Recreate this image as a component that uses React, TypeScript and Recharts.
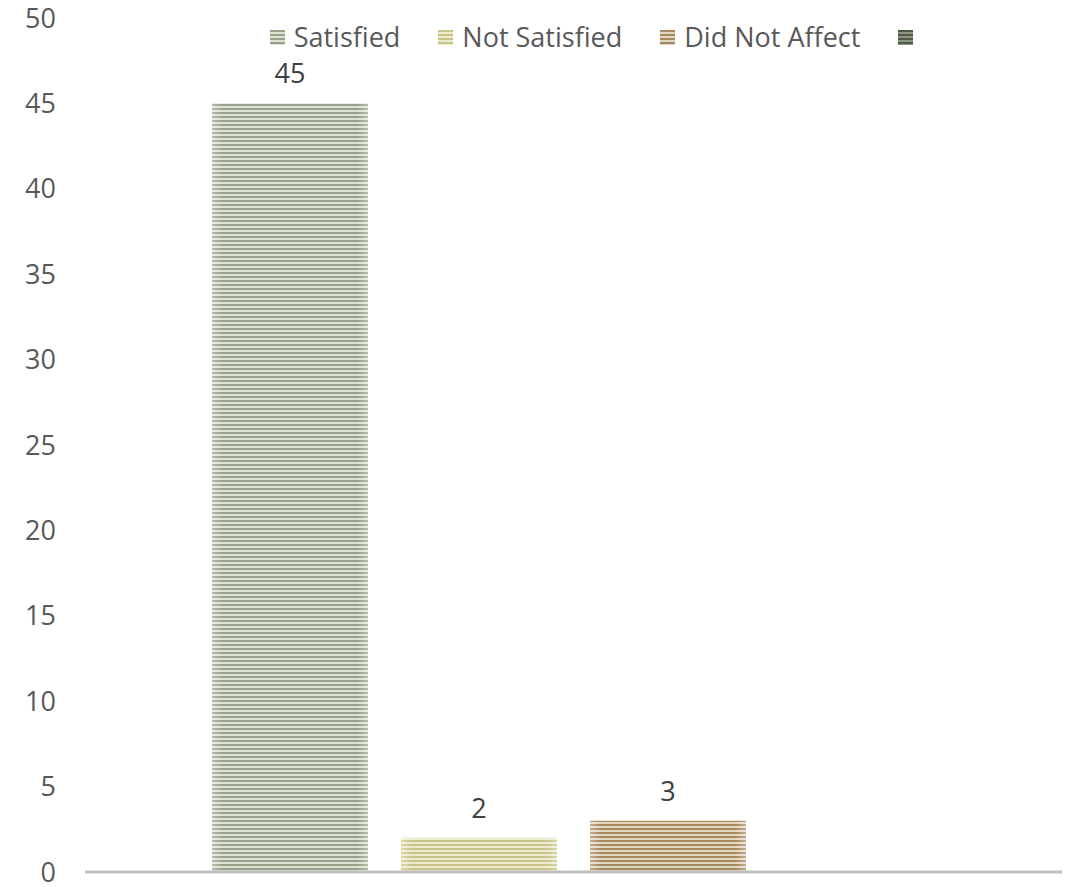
import { BarChart, Bar, XAxis, YAxis, Legend, LabelList } from "recharts";

// values
const categories = ["Response"];
const satisfied = [45];
const notSatisfied = [2];
const didNotAffect = [3];
const unnamed: (number | null)[] = [null];
const yTicks = [0, 5, 10, 15, 20, 25, 30, 35, 40, 45, 50];

interface SeriesSpec {
  key: string;
  name: string;
  dark: string;
  light: string;
  values: (number | null)[];
}

const series: SeriesSpec[] = [
  { key: "satisfied", name: "Satisfied", dark: "#95a288", light: "#dce2d4", values: satisfied },
  { key: "notSatisfied", name: "Not Satisfied", dark: "#c8c386", light: "#ecebcf", values: notSatisfied },
  { key: "didNotAffect", name: "Did Not Affect", dark: "#a5895f", light: "#e2d7c2", values: didNotAffect },
  { key: "unnamed", name: "", dark: "#4d5a45", light: "#8d987f", values: unnamed },
];

const data = categories.map((name, i) => {
  const row: Record<string, string | number | null> = { name };
  series.forEach((s) => {
    row[s.key] = s.values[i];
  });
  return row;
});

const FONT = "'Open Sans', 'Noto Sans', sans-serif";

/** Striped bar with a soft light sheen along the left/right edges. */
function StripedBar(props: any) {
  const { x, y, width, height, seriesKey } = props;
  if (!height || height <= 0) return null;
  return (
    <g>
      <rect x={x} y={y} width={width} height={height} fill={`url(#stripe-${seriesKey})`} />
      <rect x={x} y={y} width={width} height={height} fill="url(#edge-sheen)" />
    </g>
  );
}

function LegendContent() {
  return (
    <div
      style={{
        display: "flex",
        justifyContent: "center",
        alignItems: "center",
        fontFamily: FONT,
        fontSize: 27,
        color: "#595959",
        paddingLeft: 109,
        lineHeight: "36px",
      }}
    >
      {series.map((s, i) => (
        <div
          key={s.key}
          style={{ display: "flex", alignItems: "center", marginRight: i < series.length - 1 ? 38 : 0 }}
        >
          <svg width={15} height={15} style={{ marginRight: s.name ? 9 : 0 }}>
            <rect x={0} y={0} width={15} height={15} fill={`url(#stripe-${s.key})`} />
          </svg>
          {s.name && <span>{s.name}</span>}
        </div>
      ))}
    </div>
  );
}

export default function App() {
  return (
    <div style={{ position: "absolute", left: 0, top: 0, background: "#fff" }}>
      <BarChart
        width={1074}
        height={887}
        data={data}
        margin={{ top: 18, right: 12, bottom: 14, left: 0 }}
        barGap={33}
      >
        <defs>
          {series.map((s) => (
            <pattern
              key={s.key}
              id={`stripe-${s.key}`}
              patternUnits="userSpaceOnUse"
              width={8}
              height={4}
            >
              <rect x={0} y={0} width={8} height={4} fill={s.light} />
              <rect x={0} y={0} width={8} height={2} fill={s.dark} />
            </pattern>
          ))}
          <linearGradient id="edge-sheen" x1="0" y1="0" x2="1" y2="0">
            <stop offset="0%" stopColor="#ffffff" stopOpacity={0.3} />
            <stop offset="7%" stopColor="#ffffff" stopOpacity={0} />
            <stop offset="93%" stopColor="#ffffff" stopOpacity={0} />
            <stop offset="100%" stopColor="#ffffff" stopOpacity={0.3} />
          </linearGradient>
        </defs>
        <XAxis
          dataKey="name"
          tick={false}
          tickLine={false}
          height={1}
          axisLine={{ stroke: "#bfbfbf", strokeWidth: 3 }}
        />
        <YAxis
          domain={[0, 50]}
          ticks={yTicks}
          width={85}
          axisLine={false}
          tickLine={false}
          tickMargin={23}
          interval={0}
          tick={{ fontSize: 27, fill: "#595959", fontFamily: FONT }}
        />
        <Legend
          verticalAlign="middle"
          align="center"
          layout="horizontal"
          wrapperStyle={{ top: 19, left: 0, width: 1074 }}
          content={<LegendContent />}
        />
        {series.map((s) => (
          <Bar
            key={s.key}
            dataKey={s.key}
            name={s.name}
            barSize={156}
            isAnimationActive={false}
            shape={(p: any) => <StripedBar {...p} seriesKey={s.key} />}
          >
            <LabelList
              dataKey={s.key}
              position="top"
              offset={20}
              style={{ fontSize: 27, fill: "#404040", fontFamily: FONT }}
            />
          </Bar>
        ))}
      </BarChart>
    </div>
  );
}
